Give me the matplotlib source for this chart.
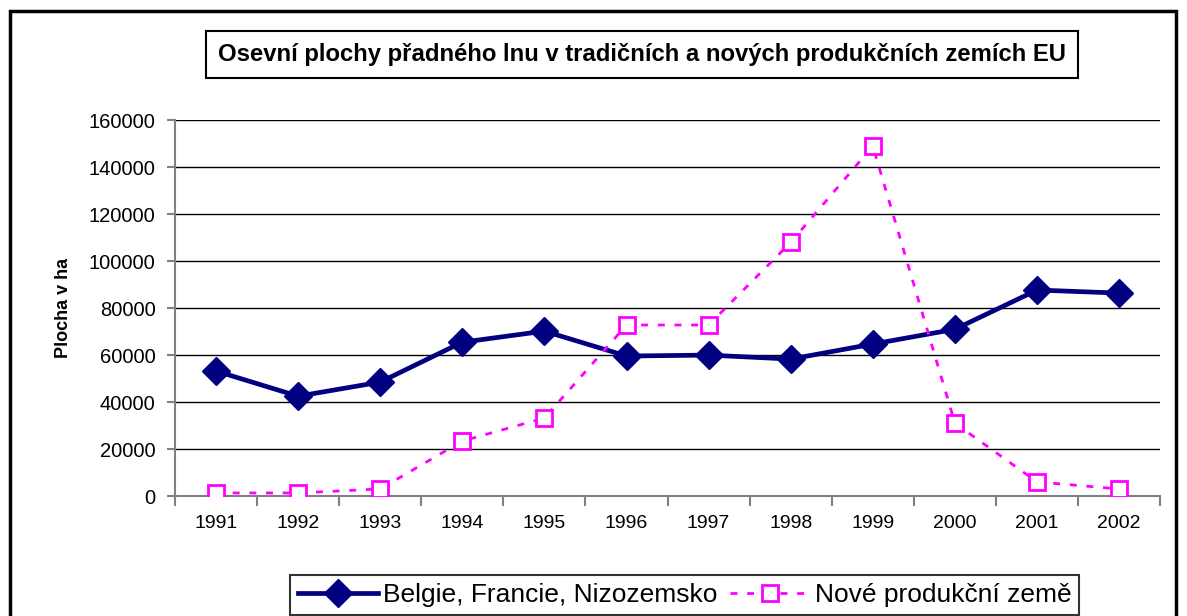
import matplotlib

matplotlib.use("Agg")

import matplotlib.pyplot as plt
from matplotlib.patches import Rectangle
from matplotlib.ticker import FixedLocator, NullFormatter
import numpy as np

plt.rcParams["font.family"] = ["Liberation Sans", "DejaVu Sans"]

years = ["1991", "1992", "1993", "1994", "1995", "1996",
         "1997", "1998", "1999", "2000", "2001", "2002"]
tradicni = [53200, 42500, 48500, 65500, 70200, 59600,
            60000, 58300, 64700, 71000, 87700, 86400]
nove = [1300, 1300, 3000, 23400, 33200, 72800,
        72800, 108000, 149000, 31000, 6000, 3000]

fig = plt.figure(figsize=(11.87, 6.16), dpi=100)
ax = fig.add_axes([0.1474, 0.1948, 0.830, 0.610])

x = np.arange(len(years))
ax.plot(x, tradicni, color="#000080", lw=3.4, marker="D", ms=14,
        mfc="#000080", mec="#000080", label="Belgie, Francie, Nizozemsko", zorder=3)
ax.plot(x, nove, color="#FF00FF", lw=2, ls=(0, (2.5, 3.5)), marker="s", ms=11.5,
        mfc="white", mec="#FF00FF", mew=2, label="Nové produkční země", zorder=4)

ax.set_xlim(-0.5, len(years) - 0.5)
ax.set_ylim(0, 160000)
ax.set_yticks(np.arange(0, 160001, 20000))
ax.set_yticklabels([str(v) for v in range(0, 160001, 20000)], fontsize=14.5)
ax.grid(axis="y", color="black", lw=1)
ax.set_axisbelow(True)

ax.set_xticks(x)
ax.set_xticklabels(years, fontsize=14)
ax.tick_params(axis="x", which="major", length=0, pad=14)
ax.xaxis.set_minor_locator(FixedLocator(np.arange(-0.5, len(years), 1.0)))
ax.xaxis.set_minor_formatter(NullFormatter())
ax.tick_params(axis="x", which="minor", length=7, color="#808080", width=1.5)
ax.tick_params(axis="y", length=6, color="#808080", width=1.5, pad=8)

for side in ("top", "right"):
    ax.spines[side].set_visible(False)
for side in ("left", "bottom"):
    ax.spines[side].set_color("#808080")
    ax.spines[side].set_linewidth(1.5)

ax.set_ylabel("Plocha v ha", fontsize=13, fontweight="bold", labelpad=12)

fig.text(0.541, 0.912, "Osevní plochy přadného lnu v tradičních a nových produkčních zemích EU",
         ha="center", va="center", fontsize=17.2, fontweight="bold",
         bbox=dict(boxstyle="square,pad=0.5", fc="white", ec="black", lw=1.5))

leg = fig.legend(loc="lower center", bbox_to_anchor=(0.577, 0.002), ncol=2, fontsize=19,
                 frameon=True, fancybox=False, edgecolor="black", handlelength=3.0,
                 handletextpad=0.2, columnspacing=0.5, borderpad=0.3, borderaxespad=0)
leg.get_frame().set_linewidth(1.5)

fig.patches.append(Rectangle((10 / 1187, -0.05), 1166 / 1187, 1 - 11 / 616 + 0.05,
                             transform=fig.transFigure, fill=False, ec="black", lw=2.5))

fig.savefig("out.png", dpi=100)
